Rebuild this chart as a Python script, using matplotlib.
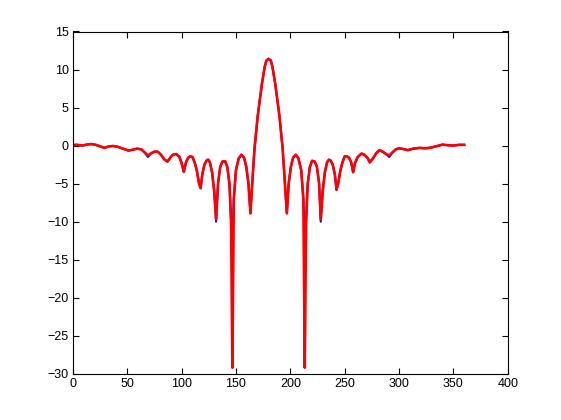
import matplotlib
matplotlib.use("Agg")
import matplotlib.pyplot as plt

# angle (deg) and pattern (dB)
angle = [0, 4, 9, 13, 17, 21, 25, 29, 33, 37, 41, 46, 51, 55, 59, 63, 66, 69,
         72, 75, 78, 81, 84, 87, 90, 92, 95, 98, 100, 102, 104, 106, 108, 110,
         112, 114, 116, 117.5, 119, 121, 123, 124.5, 126, 128, 130, 131.7,
         133.5, 135.5, 137.5, 140, 142, 144, 145.5, 146.7, 148, 150, 152.5,
         155, 157.5, 159.5, 161.5, 163.3, 165, 167, 170, 174, 176.5, 178, 180,
         182, 183.5, 186, 190, 193, 195, 196.8, 198.5, 200.5, 202.5, 205,
         207.5, 210, 212, 213.3, 214.5, 216, 218, 220, 222.5, 224.5, 226.5,
         228, 229.8, 231.8, 233.8, 235.5, 237, 239, 241, 242.5, 244, 246, 248,
         250, 252, 254, 256, 257.8, 259.5, 262, 265.5, 268, 271, 273.1, 276,
         279, 282, 285, 288, 291, 294, 297, 300, 304, 308, 313, 319, 324, 328,
         334, 340, 345, 350, 355, 360]

red_db = [0.1, 0.1, 0.0, 0.15, 0.2, 0.1, -0.1, -0.3, -0.1, -0.05, -0.15, -0.4,
          -0.65, -0.55, -0.4, -0.5, -0.9, -1.3, -1.0, -0.8, -0.8, -1.2, -1.8,
          -2.1, -1.5, -1.2, -1.1, -1.5, -2.3, -3.45, -2.2, -1.6, -1.4, -1.5,
          -2.2, -3.3, -5.0, -5.6, -3.8, -2.5, -1.95, -1.85, -2.2, -3.5, -6.0,
          -9.7, -5.0, -2.8, -2.1, -2.05, -2.8, -5.0, -10.0, -29.2, -7.0, -3.2,
          -1.7, -1.2, -1.6, -2.8, -5.0, -8.9, -4.9, -0.5, 3.9, 8.25, 10.4,
          11.2, 11.4,
          11.2, 10.4, 8.25, 3.9, -0.5, -4.9, -8.9, -5.0, -2.8, -1.6, -1.2,
          -1.7, -3.2, -7.0, -29.2, -10.0, -5.0, -2.8, -2.0, -2.1, -2.8, -5.0,
          -9.7, -6.0, -3.5, -2.2, -1.85, -1.95, -2.5, -3.8, -5.8, -5.0, -3.3,
          -2.2, -1.4, -1.4, -1.6, -2.2, -3.5, -2.3, -1.5, -1.05, -1.2, -1.6,
          -2.2, -1.7, -1.0, -0.6, -0.8, -1.1, -1.3, -0.9, -0.5, -0.35, -0.45,
          -0.6, -0.4, -0.3, -0.35, -0.3, -0.1, 0.13, 0.05, 0.0, 0.1, 0.1]

# second curve: same pattern, shallower nulls
blue_db = list(red_db)
blue_db[angle.index(146.7)] = -13.0
blue_db[angle.index(213.3)] = -13.0
blue_db[angle.index(69)] = -1.5
blue_db[angle.index(291)] = -1.5
blue_db[angle.index(131.7)] = -10.0
blue_db[angle.index(228)] = -10.0

xticks = [0, 50, 100, 150, 200, 250, 300, 350, 400]
yticks = [-30, -25, -20, -15, -10, -5, 0, 5, 10, 15]

plt.rcParams['font.family'] = ['Liberation Sans', 'DejaVu Sans']

fig = plt.figure(figsize=(5.61, 4.20), dpi=100)
ax = fig.add_axes([0.13, 0.11, 0.775, 0.815])
ax.plot(angle, blue_db, color="#0000ff", lw=1.5)
ax.plot(angle, red_db, color="#ff0000", lw=1.9)

ax.set_xlim(0, 400)
ax.set_ylim(-30, 15)
ax.set_xticks(xticks)
ax.set_yticks(yticks)
ax.tick_params(direction="in", length=4, width=0.8, labelsize=9,
               top=True, right=True, pad=3)
for s in ax.spines.values():
    s.set_linewidth(0.8)

fig.savefig("out.png", dpi=100, facecolor="white")
